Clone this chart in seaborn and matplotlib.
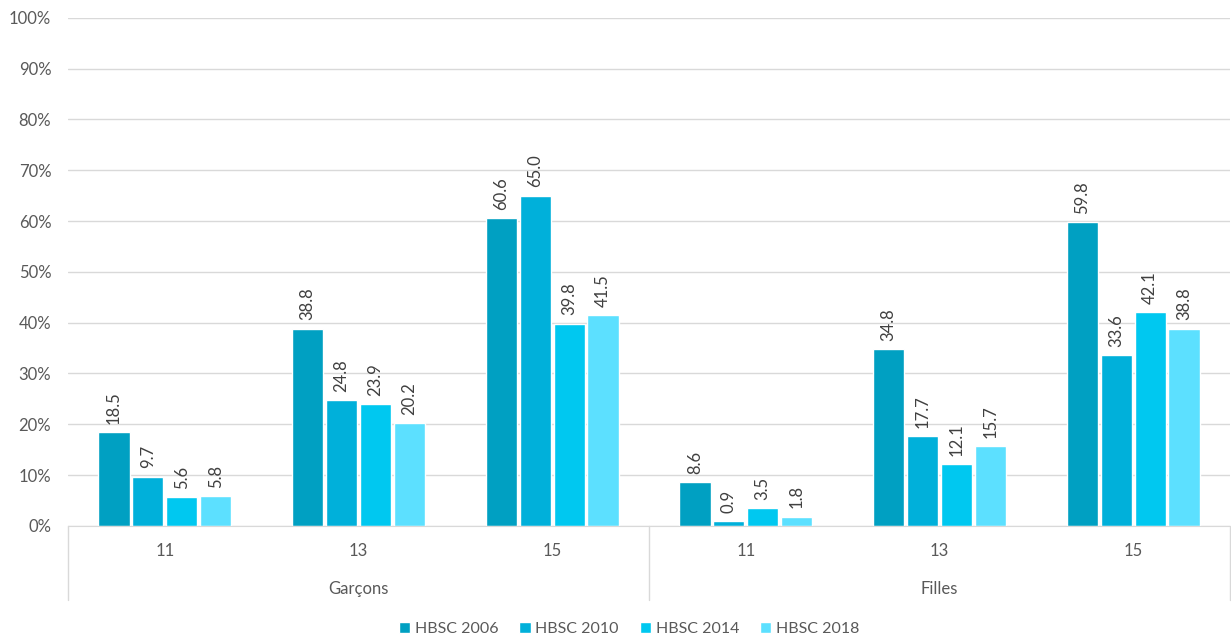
import pandas as pd
import seaborn as sns
import matplotlib.pyplot as plt
from matplotlib.ticker import FuncFormatter

groups = ["Garçons", "Filles"]
ages = ["11", "13", "15"]
surveys = ["HBSC 2006", "HBSC 2010", "HBSC 2014", "HBSC 2018"]

hbsc_2006 = [18.5, 38.8, 60.6, 8.6, 34.8, 59.8]
hbsc_2010 = [9.7, 24.8, 65.0, 0.9, 17.7, 33.6]
hbsc_2014 = [5.6, 23.9, 39.8, 3.5, 12.1, 42.1]
hbsc_2018 = [5.8, 20.2, 41.5, 1.8, 15.7, 38.8]

colors = ["#00A0C2", "#00B0DA", "#00C8F0", "#5CE0FF"]

cats = [g + " " + a for g in groups for a in ages]

rows = []
for s, vals in zip(surveys, [hbsc_2006, hbsc_2010, hbsc_2014, hbsc_2018]):
    for c, v in zip(cats, vals):
        rows.append({"cat": c, "survey": s, "value": v})
df = pd.DataFrame(rows)

sns.set_style("white")
plt.rcParams["font.family"] = ["Lato", "DejaVu Sans"]

fig = plt.figure(figsize=(12.31, 6.39), dpi=100)
ax = fig.add_axes([0.0552, 0.177, 0.944, 0.795])

sns.barplot(
    data=df,
    x="cat",
    y="value",
    hue="survey",
    order=cats,
    hue_order=surveys,
    palette=colors,
    width=0.7,
    gap=0.08,
    saturation=1,
    ax=ax
)

for cont in ax.containers:
    ax.bar_label(
        cont,
        fmt="%.1f",
        rotation=90,
        padding=6,
        fontsize=12,
        color="#404040"
    )

ax.set_ylim(0, 100)
ax.set_yticks(range(0, 101, 10))
ax.yaxis.set_major_formatter(FuncFormatter(lambda v, p: "%d%%" % v))
ax.grid(axis="y", color="#D9D9D9", linewidth=1)
ax.set_axisbelow(True)

ax.set_xlim(-0.5, len(cats) - 0.5)
ax.set_xticks(range(len(cats)))
ax.set_xticklabels(ages * 2)
ax.tick_params(axis="x", length=0, pad=12, labelsize=12, colors="#595959")
ax.tick_params(axis="y", length=0, pad=12, labelsize=12, colors="#595959")
ax.set_xlabel("")
ax.set_ylabel("")

for side in ["left", "right", "top"]:
    ax.spines[side].set_visible(False)
ax.spines["bottom"].set_color("#D9D9D9")

# category separators below the axis
for xpos in [-0.5, 2.5, 5.5]:
    ax.plot([xpos, xpos], [0, -14.6], color="#D9D9D9",
            linewidth=1, clip_on=False)

for i, g in enumerate(groups):
    ax.text(1 + 3 * i, -12.5, g, ha="center", va="center",
            fontsize=12, color="#595959")

handles, labels = ax.get_legend_handles_labels()
ax.legend(
    handles,
    labels,
    loc="center",
    bbox_to_anchor=(0.483, -0.203),
    ncol=4,
    frameon=False,
    fontsize=11.5,
    handlelength=0.7,
    handleheight=0.7,
    handletextpad=0.3,
    columnspacing=1.3,
    labelcolor="#595959"
)

fig.savefig("out.png", dpi=100)
